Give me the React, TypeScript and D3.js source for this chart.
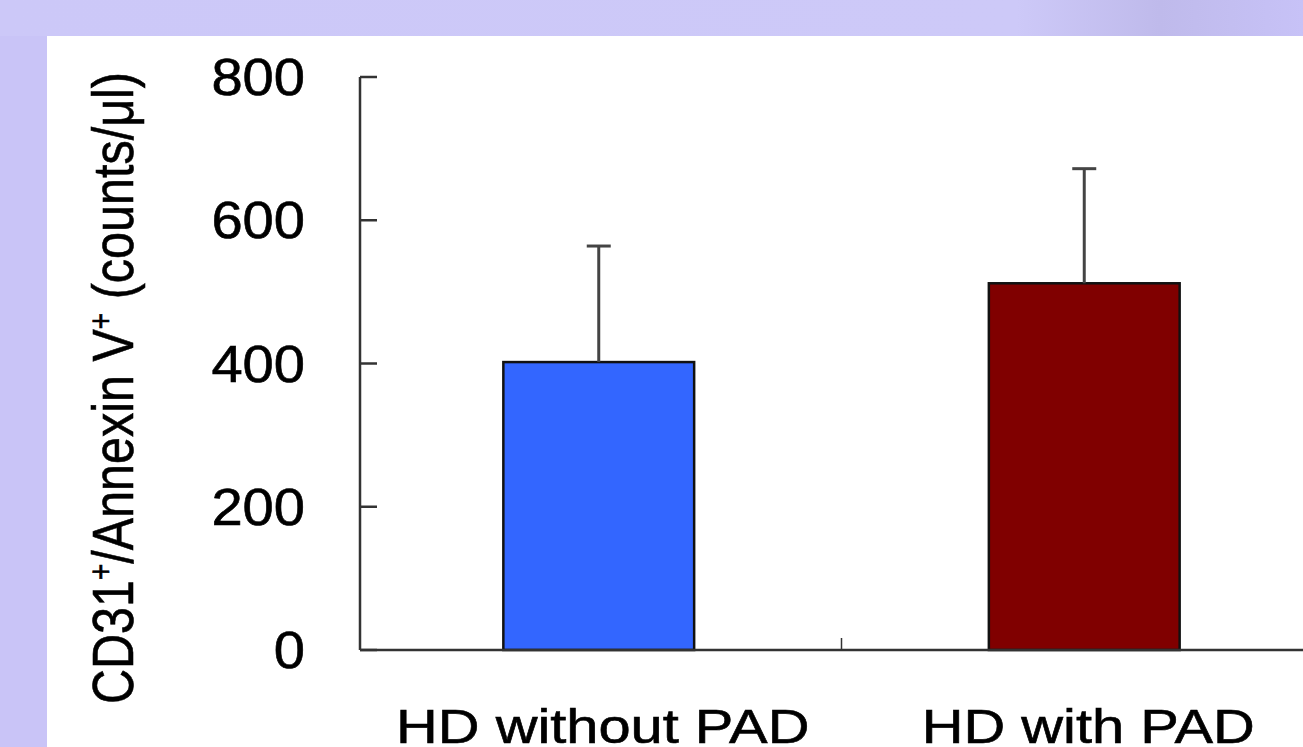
import React from "react";
import * as d3 from "d3";

const categories = ["HD without PAD", "HD with PAD"];
const means = [402, 512];
const errors = [162, 160];
const barColors = ["#3366FF", "#800000"];
const yTicks = [0, 200, 400, 600, 800];
const yLabelMain = ["CD31", "/Annexin V", " (counts/\u03bcl)"];

const W = 1303;
const H = 747;

export default function App() {
  const y = d3.scaleLinear().domain([0, 800]).range([650, 77]);
  const x = d3
    .scaleBand<string>()
    .domain(categories)
    .range([356, 1327])
    .paddingInner(0.607)
    .paddingOuter(0.3035);
  const axisX = 360;
  const font = "'Liberation Sans', Arial, sans-serif";
  const bw = x.bandwidth();

  return (
    <svg
      width={W}
      height={H}
      style={{ position: "absolute", left: 0, top: 0, display: "block" }}
    >
      <defs>
        <linearGradient id="bgGrad" x1="0" y1="0" x2="1" y2="0">
          <stop offset="0" stopColor="#CCC8F8" />
          <stop offset="0.78" stopColor="#CDC9F8" />
          <stop offset="0.89" stopColor="#BFBAEB" />
          <stop offset="1" stopColor="#C7C2F7" />
        </linearGradient>
      </defs>
      <rect x={0} y={0} width={W} height={H} fill="url(#bgGrad)" />
      <rect x={0} y={36} width={47} height={H - 36} fill="#C9C4F7" />
      <rect x={47} y={36} width={W - 47} height={H - 36} fill="#FFFFFF" />

      {/* bars */}
      {categories.map((c, i) => (
        <rect
          key={c}
          x={x(c)!}
          y={y(means[i])}
          width={bw}
          height={y(0) - y(means[i])}
          fill={barColors[i]}
          stroke="#111"
          strokeWidth={2.5}
        />
      ))}

      {/* error bars */}
      {categories.map((c, i) => {
        const cx = x(c)! + bw / 2;
        const top = y(means[i] + errors[i]);
        return (
          <g key={"e" + c} stroke="#444" strokeWidth={3}>
            <line x1={cx} x2={cx} y1={y(means[i])} y2={top} />
            <line x1={cx - 12} x2={cx + 12} y1={top} y2={top} />
          </g>
        );
      })}

      {/* y axis */}
      <line x1={axisX} x2={axisX} y1={y(800)} y2={y(0)} stroke="#333" strokeWidth={2.5} />
      {yTicks.map((t) => (
        <g key={t}>
          <line x1={axisX} x2={axisX + 17} y1={y(t)} y2={y(t)} stroke="#333" strokeWidth={2.5} />
          <text
            transform={`translate(305,${y(t)}) scale(1.1,1)`}
            textAnchor="end"
            dominantBaseline="central"
            fontFamily={font}
            fontSize={51}
            fill="#000"
            stroke="#000"
            strokeWidth={0.6}
          >
            {t}
          </text>
        </g>
      ))}

      {/* x axis */}
      <line x1={axisX} x2={W} y1={y(0)} y2={y(0)} stroke="#333" strokeWidth={2.5} />
      {categories.slice(1).map((c) => (
        <line
          key={"t" + c}
          x1={x(c)! - (x.step() * x.paddingInner()) / 2}
          x2={x(c)! - (x.step() * x.paddingInner()) / 2}
          y1={y(0)}
          y2={y(0) - 12}
          stroke="#333"
          strokeWidth={1.5}
        />
      ))}
      {categories.map((c) => (
        <text
          key={"l" + c}
          transform={`translate(${x(c)! + bw / 2 + 4},743) scale(1.18,1)`}
          textAnchor="middle"
          fontFamily={font}
          fontSize={49}
          fill="#000"
          stroke="#000"
          strokeWidth={0.6}
        >
          {c}
        </text>
      ))}

      {/* y label */}
      <text
        transform={`translate(133,388) scale(1.18,1) rotate(-90)`}
        textAnchor="middle"
        fontFamily={font}
        fontSize={48.5}
        fill="#000"
        stroke="#000"
        strokeWidth={0.5}
      >
        {yLabelMain[0]}
        <tspan fontSize={28} dy={-18}>+</tspan>
        <tspan dy={18}>{yLabelMain[1]}</tspan>
        <tspan fontSize={28} dy={-18}>+</tspan>
        <tspan dy={18}>{yLabelMain[2]}</tspan>
      </text>
    </svg>
  );
}
